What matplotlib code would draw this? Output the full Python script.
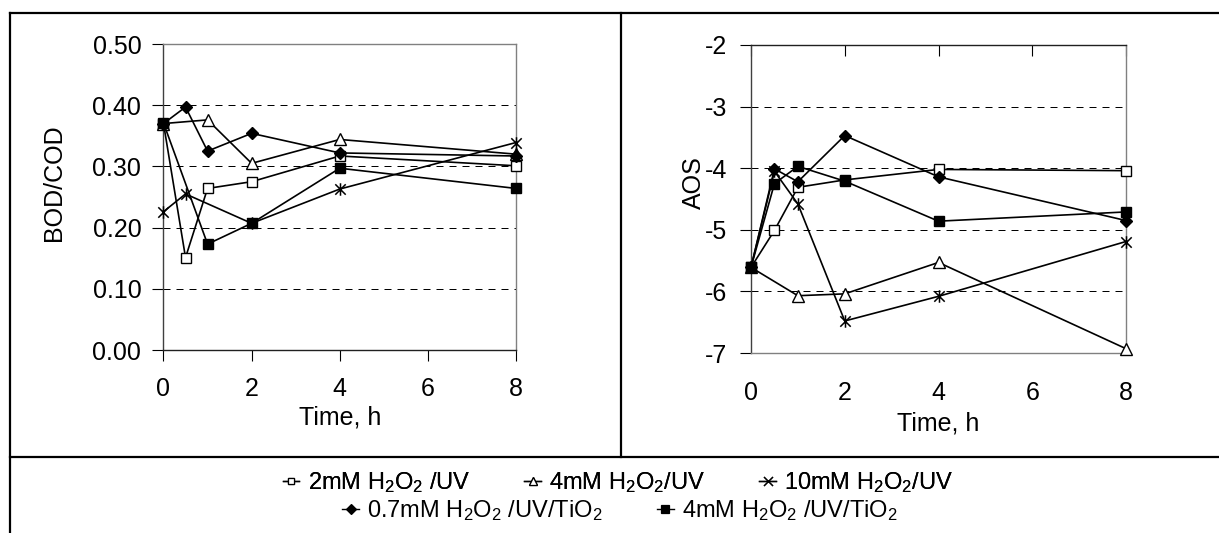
import matplotlib
matplotlib.use("Agg")
import matplotlib.pyplot as plt
from matplotlib.lines import Line2D
from matplotlib.path import Path

plt.rcParams['font.family'] = ['Liberation Sans', 'DejaVu Sans']
plt.rcParams['mathtext.fontset'] = 'custom'
plt.rcParams['mathtext.rm'] = 'Liberation Sans'
plt.rcParams['mathtext.it'] = 'Liberation Sans:italic'
plt.rcParams['mathtext.bf'] = 'Liberation Sans:bold'
plt.rcParams['axes.unicode_minus'] = False

# ---------------- data ----------------
time = [0, 0.5, 1, 2, 4, 8]

series_labels = [r'2mM H$_2$O$_2$ /UV', r'4mM H$_2$O$_2$/UV', r'10mM H$_2$O$_2$/UV',
                 r'0.7mM H$_2$O$_2$ /UV/TiO$_2$', r'4mM H$_2$O$_2$ /UV/TiO$_2$']

bod_2mM = [0.370, 0.151, 0.264, 0.275, 0.317, 0.301]
bod_4mM = [0.370, None, 0.376, 0.305, 0.344, 0.320]
bod_10mM = [0.226, 0.255, None, 0.207, 0.263, 0.339]
bod_07TiO2 = [0.370, 0.397, 0.325, 0.354, 0.322, 0.317]
bod_4TiO2 = [0.371, None, 0.173, 0.207, 0.297, 0.264]

aos_2mM = [-5.61, -5.01, -4.31, -4.19, -4.02, -4.04]
aos_4mM = [-5.61, None, -6.07, -6.04, -5.53, -6.93]
aos_10mM = [-5.61, -4.05, -4.58, -6.48, -6.08, -5.19]
aos_07TiO2 = [-5.61, -4.01, -4.22, -3.47, -4.14, -4.85]
aos_4TiO2 = [-5.61, -4.25, -3.97, -4.21, -4.86, -4.71]

bod_ticks = [0.0, 0.1, 0.2, 0.3, 0.4, 0.5]
aos_ticks = [-7, -6, -5, -4, -3, -2]
time_ticks = [0, 2, 4, 6, 8]

# ---------------- styles ----------------
ast_path = Path([(-1, -1), (1, 1), (-1, 1), (1, -1), (0, -1.2), (0, 1.2)],
                [Path.MOVETO, Path.LINETO, Path.MOVETO, Path.LINETO, Path.MOVETO, Path.LINETO])
ast_leg_path = Path([(-1, -1), (1, 1), (-1, 1), (1, -1)],
                    [Path.MOVETO, Path.LINETO, Path.MOVETO, Path.LINETO])
styles = [
    dict(marker='s', ms=6.5, mfc='white', mec='black', mew=1.0),
    dict(marker='^', ms=8.0, mfc='white', mec='black', mew=1.0),
    dict(marker=ast_path, ms=9.0, mfc='none', mec='black', mew=1.1),
    dict(marker='D', ms=6.5, mfc='black', mec='black', mew=1.0),
    dict(marker='s', ms=7.5, mfc='black', mec='black', mew=1.0),
]

W, H = 1219, 533
fig = plt.figure(figsize=(W / 100, H / 100), dpi=100)

def fx(px):
    return px / W

def fy(py):
    return 1 - py / H

FS = 18

def draw(ax, ydata, ylim, yticks, fmt):
    for vals, st in zip(ydata, styles):
        xs = [t for t, v in zip(time, vals) if v is not None]
        ys = [v for v in vals if v is not None]
        ax.plot(xs, ys, color='black', lw=1.2, clip_on=False, zorder=3, **st)
    ax.set_xlim(0, 8)
    ax.set_ylim(*ylim)
    ax.set_xticks(time_ticks)
    ax.set_yticks(yticks)
    ax.set_yticklabels([fmt.format(v) for v in yticks], fontsize=FS)
    ax.set_xticklabels([str(t) for t in time_ticks], fontsize=FS)
    for v in yticks[1:-1]:
        ax.axhline(v, color='black', lw=0.72, dashes=(7, 6), zorder=1)

# Left axes
axL = fig.add_axes([fx(163.5), fy(350), fx(516) - fx(163.5), fy(44) - fy(350)])
draw(axL, [bod_2mM, bod_4mM, bod_10mM, bod_07TiO2, bod_4TiO2], (0, 0.5), bod_ticks, '{:.2f}')
axL.spines['left'].set_color('#404040')
axL.spines['bottom'].set_color('#202020')
axL.spines['top'].set_color('#808080')
axL.spines['right'].set_color('#808080')
for s in axL.spines.values():
    s.set_linewidth(1.0)
axL.tick_params(axis='y', direction='out', length=8, width=0.8, pad=8.0, colors='black')
axL.tick_params(axis='x', direction='out', length=8, width=0.8, pad=11.5, colors='black')

# Right axes
axR = fig.add_axes([fx(751), fy(353), fx(1126) - fx(751), fy(45) - fy(353)])
draw(axR, [aos_2mM, aos_4mM, aos_10mM, aos_07TiO2, aos_4TiO2], (-7, -2), aos_ticks, '{:d}')
axR.spines['left'].set_color('#404040')
axR.spines['top'].set_color('#202020')
axR.spines['bottom'].set_color('#808080')
axR.spines['right'].set_color('#808080')
for s in axR.spines.values():
    s.set_linewidth(1.0)
axR.tick_params(axis='y', direction='out', length=8, width=0.8, pad=9.0, colors='black')
axR.tick_params(axis='x', direction='in', length=8, width=0.8, top=True, bottom=False,
                labeltop=False, labelbottom=True, pad=20.5, colors='black')

# Axis titles
fig.text(fx(54), fy(183), 'BOD/COD', rotation=90, ha='center', va='center', fontsize=FS)
fig.text(fx(694), fy(183), 'AOS', rotation=90, ha='center', va='center', fontsize=FS)
fig.text(fx(340), fy(425), 'Time, h', ha='center', va='baseline', fontsize=FS)
fig.text(fx(938), fy(430), 'Time, h', ha='center', va='baseline', fontsize=FS)

# Frame lines
lw_frame = 1.6
fig.add_artist(Line2D([fx(10), 1], [fy(12.5), fy(12.5)], color='black', lw=lw_frame))
fig.add_artist(Line2D([fx(10), fx(10)], [0, fy(12.5)], color='black', lw=lw_frame))
fig.add_artist(Line2D([fx(10), 1], [fy(457), fy(457)], color='black', lw=lw_frame))
fig.add_artist(Line2D([fx(621), fx(621)], [fy(457), fy(12.5)], color='black', lw=lw_frame))

# Legend
def handle(st, idx):
    d = dict(st)
    d['ms'] = d['ms'] * 0.72
    d['mew'] = 0.9
    if idx == 2:
        d['marker'] = ast_leg_path
    return Line2D([], [], color='black', lw=1.0, **d)

handles = [handle(st, i) for i, st in enumerate(styles)]
LFS = 17
leg1 = fig.legend(handles[:3], series_labels[:3], loc='center', bbox_to_anchor=(fx(618), fy(483)),
                  ncol=3, frameon=False, fontsize=LFS, handlelength=0.7, handletextpad=0.35,
                  columnspacing=2.3, borderpad=0, borderaxespad=0)
leg2 = fig.legend(handles[3:], series_labels[3:], loc='center', bbox_to_anchor=(fx(620), fy(511)),
                  ncol=2, frameon=False, fontsize=LFS, handlelength=0.7, handletextpad=0.35,
                  columnspacing=2.3, borderpad=0, borderaxespad=0)
fig.add_artist(leg1)

fig.savefig('out.png', dpi=100)
